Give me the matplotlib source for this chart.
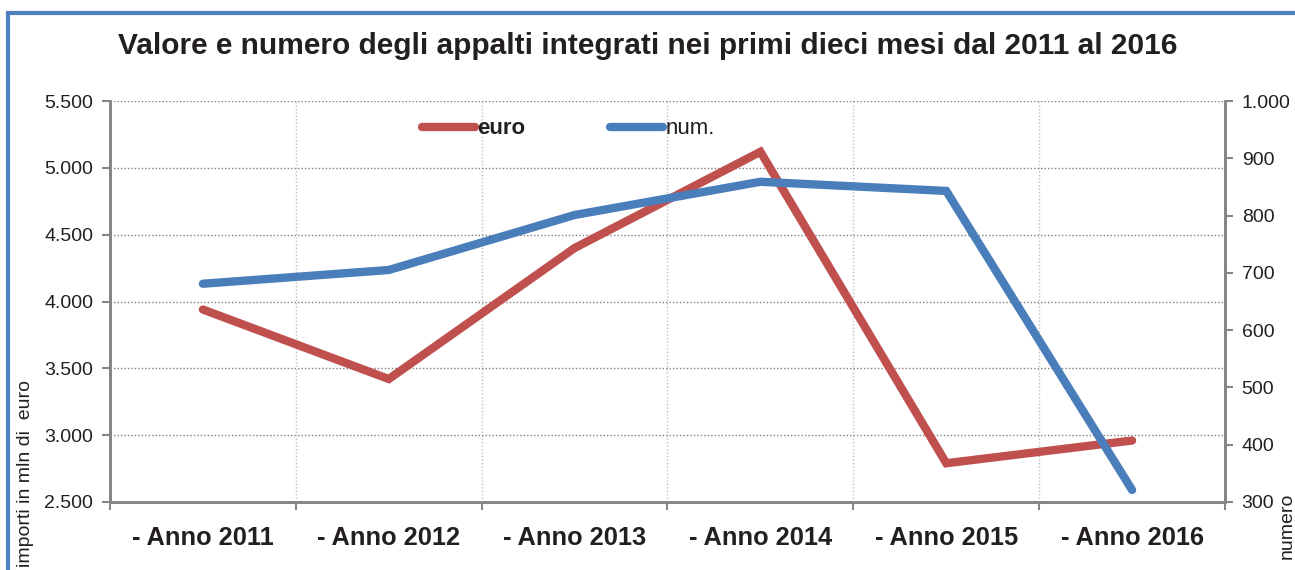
import matplotlib.pyplot as plt
from matplotlib.ticker import FuncFormatter, FixedLocator
from matplotlib.lines import Line2D
from matplotlib.patches import Rectangle

plt.rcParams['font.family'] = ['Liberation Sans', 'DejaVu Sans']

# dati
anni = ["- Anno 2011", "- Anno 2012", "- Anno 2013", "- Anno 2014", "- Anno 2015", "- Anno 2016"]
euro = [3940, 3420, 4400, 5120, 2790, 2960]
num = [681, 705, 801, 859, 843, 321]

ROSSO = "#C0504D"
BLU = "#4A7EBB"
GRIGIO = "#868686"
TESTO = "#231F20"


def punti(v, pos):
    return f"{int(v):,}".replace(",", ".")


fig = plt.figure(figsize=(12.95, 5.70), dpi=100)
ax = fig.add_axes([110 / 1295, 68 / 570, 1115 / 1295, 401 / 570])
ax2 = ax.twinx()

x = list(range(len(anni)))
ax.plot(x, euro, color=ROSSO, lw=6, solid_capstyle="round", solid_joinstyle="miter", zorder=3)
ax2.plot(x, num, color=BLU, lw=6, solid_capstyle="round", solid_joinstyle="miter", zorder=3)

ax.set_xlim(-0.5, len(anni) - 0.5)
ax.set_ylim(2500, 5500)
ax2.set_ylim(300, 1000)
ax.set_yticks(range(2500, 5501, 500))
ax2.set_yticks(range(300, 1001, 100))
ax.yaxis.set_major_formatter(FuncFormatter(punti))
ax2.yaxis.set_major_formatter(FuncFormatter(punti))

ax.set_xticks(x)
ax.set_xticklabels(anni, fontsize=18.3, fontweight="bold", color=TESTO)
ax.xaxis.set_minor_locator(FixedLocator([i - 0.5 for i in range(len(anni) + 1)]))
ax.tick_params(axis="x", which="major", length=0, pad=17)
ax.tick_params(axis="x", which="minor", length=6, width=1.5, color=GRIGIO, direction="out")
ax.tick_params(axis="y", length=6, width=1.5, color=GRIGIO, labelsize=14, labelcolor=TESTO, pad=6)
ax2.tick_params(axis="y", length=6, width=1.5, color=GRIGIO, labelsize=14, labelcolor=TESTO, pad=6)

ax.grid(axis="y", which="major", color="#7F7F7F", ls=(0, (1, 1.5)), lw=1)
ax.grid(axis="x", which="minor", color="#BFBFBF", ls=(0, (1, 1.5)), lw=1)
ax.set_axisbelow(True)

for a in (ax, ax2):
    a.spines["top"].set_visible(False)
    for s in ("left", "right", "bottom"):
        a.spines[s].set_color(GRIGIO)
        a.spines[s].set_linewidth(2)

fig.text(0.5, 1 - 46 / 570, "Valore e numero degli appalti integrati nei primi dieci mesi dal 2011 al 2016",
         ha="center", va="center", fontsize=21.5, fontweight="bold", color=TESTO)
fig.text(26 / 1295, 1 - 380 / 570, "importi in mln di  euro", rotation=90, ha="center", va="top",
         fontsize=14, color=TESTO)
fig.text(1287 / 1295, 1 - 493 / 570, "numero", rotation=90, ha="center", va="top",
         fontsize=14, color=TESTO)

maniglie = [Line2D([], [], color=ROSSO, lw=6, solid_capstyle="round"),
            Line2D([], [], color=BLU, lw=6, solid_capstyle="round")]
leg = fig.legend(maniglie, ["euro", "num."], loc="center left",
                 bbox_to_anchor=(402 / 1295, 1 - 129 / 570), ncol=2, frameon=False,
                 fontsize=16, handlelength=2.4, handletextpad=0.1, columnspacing=3.8)
leg.get_texts()[0].set_fontweight("bold")
for t in leg.get_texts():
    t.set_color(TESTO)

# cornice blu
fig.patches.append(Rectangle((8 / 1295, -0.2), 1.2, 1.2 - 13 / 570, transform=fig.transFigure,
                             fill=False, edgecolor="#4F81BD", lw=3))

fig.savefig("out.png", dpi=100)
